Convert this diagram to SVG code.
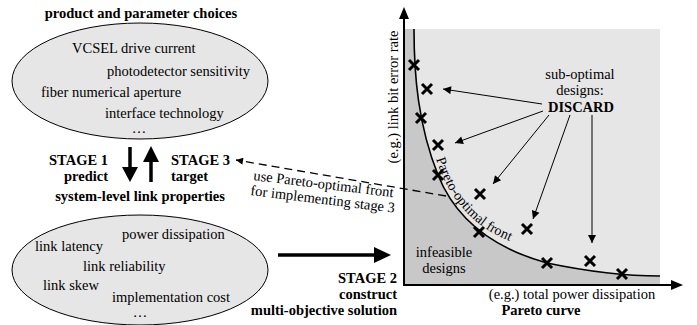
<svg xmlns="http://www.w3.org/2000/svg" width="697" height="325" viewBox="0 0 697 325" font-family="'Liberation Serif', 'Times New Roman', 'DejaVu Serif', serif">
<defs>
<style>
text{font-family:'Liberation Serif','Times New Roman','DejaVu Serif',serif;font-size:14.5px;fill:#000}
.b{font-weight:bold}
.m{text-anchor:middle}
.e{text-anchor:end}
.ell{fill:#e6e6e6;stroke:#000;stroke-width:1}
.thin{stroke:#000;stroke-width:1;fill:none}
.thick{stroke:#000;stroke-width:3.5;fill:none}
.x{stroke:#000;stroke-width:3;fill:none}
</style>
<marker id="ah" viewBox="0 0 10 10" refX="10" refY="5" markerWidth="10" markerHeight="8" markerUnits="userSpaceOnUse" orient="auto"><path d="M0,0 L10,5 L0,10 z" fill="#000"/></marker>
<marker id="ahd" viewBox="0 0 10 10" refX="10" refY="5" markerWidth="9" markerHeight="7" markerUnits="userSpaceOnUse" orient="auto"><path d="M0,0 L10,5 L0,10 z" fill="#000"/></marker>
<path id="front" d="M435,156 C446,192 467,221 501,237 S541,253 561,259"/>
</defs>

<g id="plot">
<rect x="404" y="29" width="256" height="256" fill="#e6e6e6"/>
<path d="M404,29 L414,29 C414,75 418,125 438,175 C458,225 500,250 547,263 C590,272 625,276 660,276 L660,285 L404,285 Z" fill="#c8c8c8"/>
<path class="thin" style="stroke-width:1.6" d="M414,29 C414,75 418,125 438,175 C458,225 500,250 547,263 C590,272 625,276 660,276"/>
<text style="font-size:14px"><textPath href="#front" startOffset="3">Pareto-optimal front</textPath></text>
<line x1="404" y1="286" x2="404" y2="18" stroke="#000" stroke-width="2"/>
<path d="M404,7 L409,19 L399,19 Z" fill="#000"/>
<line x1="403" y1="285" x2="672" y2="285" stroke="#000" stroke-width="2"/>
<path d="M683,285 L671,290 L671,280 Z" fill="#000"/>
<text transform="translate(398,97) rotate(-90)" class="m">(e.g.) link bit error rate</text>
<text x="572" y="299" class="m">(e.g.) total power dissipation</text>
<text x="541" y="315" class="m b">Pareto curve</text>
<text x="444" y="257" class="m">infeasible</text>
<text x="444" y="273" class="m">designs</text>
<g id="points">
<path class="x" d="M409,60 l10,10 M419,60 l-10,10"/>
<path class="x" d="M422,84 l10,10 M432,84 l-10,10"/>
<path class="x" d="M416,113 l10,10 M426,113 l-10,10"/>
<path class="x" d="M433,140 l10,10 M443,140 l-10,10"/>
<path class="x" d="M433,170 l10,10 M443,170 l-10,10"/>
<path class="x" d="M475,189 l10,10 M485,189 l-10,10"/>
<path class="x" d="M474,227 l10,10 M484,227 l-10,10"/>
<path class="x" d="M522,224 l10,10 M532,224 l-10,10"/>
<path class="x" d="M542,258 l10,10 M552,258 l-10,10"/>
<path class="x" d="M585,256 l10,10 M595,256 l-10,10"/>
<path class="x" d="M617,269 l10,10 M627,269 l-10,10"/>
</g>
</g>

<g id="discard">
<text x="580" y="79" class="m">sub-optimal</text>
<text x="580" y="95" class="m">designs:</text>
<text x="581" y="112" class="m b">DISCARD</text>
</g>

<g id="connectors">
<line class="thin" x1="542" y1="104" x2="443" y2="89" marker-end="url(#ah)"/>
<line class="thin" x1="543" y1="111" x2="455" y2="143" marker-end="url(#ah)"/>
<line class="thin" x1="549" y1="115" x2="493" y2="184" marker-end="url(#ah)"/>
<line class="thin" x1="570" y1="115" x2="533" y2="219" marker-end="url(#ah)"/>
<line class="thin" x1="592" y1="115" x2="592" y2="243" marker-end="url(#ah)"/>
<line x1="446" y1="196" x2="236" y2="160" stroke="#000" stroke-width="1.3" stroke-dasharray="8,5" marker-end="url(#ahd)"/>
<line class="thick" x1="130" y1="147" x2="130" y2="168"/>
<path d="M122,167 L138,167 L130,182 Z" fill="#000"/>
<line class="thick" x1="151" y1="182" x2="151" y2="161"/>
<path d="M143,162 L159,162 L151,146 Z" fill="#000"/>
<line class="thick" x1="278" y1="255" x2="376" y2="255"/>
<path d="M374,247 L374,263 L391,255 Z" fill="#000"/>
</g>

<g id="dashedlabel">
<text transform="translate(253,180) rotate(7)">use Pareto-optimal front</text>
<text transform="translate(250,195) rotate(7)">for implementing stage 3</text>
</g>

<g id="choices">
<text x="141" y="18" class="m b">product and parameter choices</text>
<ellipse class="ell" cx="140" cy="81" rx="128" ry="58"/>
<text x="72" y="53">VCSEL drive current</text>
<text x="107" y="76">photodetector sensitivity</text>
<text x="41" y="97">fiber numerical aperture</text>
<text x="105" y="118">interface technology</text>
<text x="139" y="133" class="m">…</text>
</g>

<g id="stages">
<text x="108" y="165" class="e b">STAGE 1</text>
<text x="108" y="181" class="e b">predict</text>
<text x="171" y="165" class="b">STAGE 3</text>
<text x="171" y="181" class="b">target</text>
<text x="140" y="201" class="m b">system-level link properties</text>
</g>

<g id="properties">
<ellipse class="ell" cx="140" cy="270" rx="128" ry="55"/>
<text x="122" y="239">power dissipation</text>
<text x="35" y="251">link latency</text>
<text x="83" y="271">link reliability</text>
<text x="43" y="290">link skew</text>
<text x="112" y="302">implementation cost</text>
<text x="140" y="317" class="m">…</text>
</g>

<g id="stage2">
<text x="397" y="283" class="e b">STAGE 2</text>
<text x="397" y="299" class="e b">construct</text>
<text x="397" y="315" class="e b">multi-objective solution</text>
</g>
</svg>
